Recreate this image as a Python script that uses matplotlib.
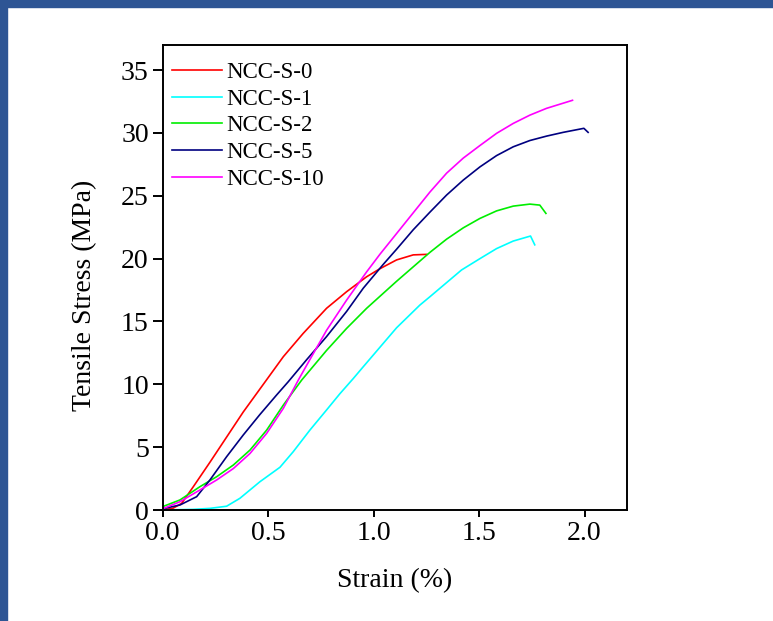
import numpy as np
import matplotlib
matplotlib.use('Agg')
import matplotlib.pyplot as plt
from matplotlib.patches import Rectangle

plt.rcParams['font.family'] = ['Liberation Serif', 'DejaVu Serif']

# strain (%) / tensile stress (MPa)
s0_x = [0.0, 0.05, 0.09, 0.145, 0.224, 0.303, 0.382, 0.49, 0.572, 0.666, 0.777, 0.872, 0.967,
        1.03, 1.109, 1.188, 1.251]
s0_y = [0.0, 0.15, 0.53, 1.85, 3.8, 5.8, 7.8, 10.3, 12.2, 14.05, 16.05, 17.37, 18.56,
        19.2, 19.9, 20.3, 20.34]

s1_x = [0.0, 0.145, 0.224, 0.303, 0.366, 0.461, 0.556, 0.619, 0.698, 0.777, 0.84, 0.903, 0.951,
        1.109, 1.219, 1.267, 1.417, 1.504, 1.583, 1.662, 1.744, 1.764]
s1_y = [0.0, 0.05, 0.13, 0.3, 0.93, 2.25, 3.4, 4.64, 6.36, 7.96, 9.25, 10.45, 11.4,
        14.5, 16.3, 16.97, 19.1, 20.0, 20.8, 21.4, 21.8, 21.1]

s2_x = [0.0, 0.082, 0.177, 0.256, 0.335, 0.414, 0.493, 0.572, 0.659, 0.777, 0.872, 0.967,
        1.109, 1.267, 1.346, 1.425, 1.504, 1.583, 1.662, 1.741, 1.788, 1.817]
s2_y = [0.27, 0.8, 1.86, 2.65, 3.58, 4.77, 6.36, 8.35, 10.34, 12.7, 14.45, 16.05,
        18.2, 20.5, 21.55, 22.45, 23.2, 23.8, 24.18, 24.34, 24.26, 23.6]

s5_x = [0.0, 0.082, 0.161, 0.224, 0.303, 0.382, 0.461, 0.54, 0.595, 0.682, 0.777, 0.872, 0.951,
        1.046, 1.109, 1.188, 1.267, 1.346, 1.425, 1.504, 1.583, 1.662, 1.741, 1.82, 1.899,
        1.997, 2.017]
s5_y = [0.1, 0.4, 1.06, 2.39, 4.24, 5.97, 7.6, 9.15, 10.2, 11.95, 13.8, 15.8, 17.65,
        19.55, 20.75, 22.3, 23.7, 25.06, 26.25, 27.3, 28.2, 28.9, 29.4, 29.75, 30.05,
        30.37, 30.05]

s10_x = [0.0, 0.082, 0.177, 0.256, 0.335, 0.414, 0.493, 0.572, 0.643, 0.682, 0.777, 0.872, 0.967,
         1.03, 1.109, 1.188, 1.267, 1.346, 1.425, 1.504, 1.583, 1.662, 1.741, 1.82, 1.943]
s10_y = [0.1, 0.66, 1.6, 2.39, 3.3, 4.5, 6.1, 8.09, 10.34, 11.5, 14.3, 16.7, 18.95,
         20.35, 22.0, 23.65, 25.3, 26.8, 28.0, 29.0, 29.97, 30.76, 31.42, 31.96, 32.6]

labels = ['NCC-S-0', 'NCC-S-1', 'NCC-S-2', 'NCC-S-5', 'NCC-S-10']
colors = ['#ff0000', '#00ffff', '#00ee00', '#000080', '#ff00ff']
xticks = [0.0, 0.5, 1.0, 1.5, 2.0]
yticks = [0, 5, 10, 15, 20, 25, 30, 35]

fig = plt.figure(figsize=(7.73, 6.21), dpi=100)
# blue frame on the left and top of the picture
fig.patches.append(Rectangle((0, 0), 7.3 / 773, 1, transform=fig.transFigure,
                             color='#2e5594', zorder=0))
fig.patches.append(Rectangle((0, 1 - 6.7 / 621), 1, 6.7 / 621, transform=fig.transFigure,
                             color='#2e5594', zorder=0))

ax = fig.add_axes([162.7 / 773, 111 / 621, 464 / 773, 465 / 621])

series = [(s0_x, s0_y), (s1_x, s1_y), (s2_x, s2_y), (s5_x, s5_y), (s10_x, s10_y)]
for (xs, ys), lab, c in zip(series, labels, colors):
    ax.plot(xs, ys, color=c, lw=1.2, label=lab)

ax.set_xlim(0, 2.2)
ax.set_ylim(0, 37)
ax.set_xticks(xticks)
ax.set_xticklabels(['%.1f' % t for t in xticks])
ax.set_yticks(yticks)
for sp in ax.spines.values():
    sp.set_linewidth(1.4)
ax.tick_params(axis='both', labelsize=20, width=1.4, direction='out')
ax.tick_params(axis='y', length=7, pad=3)
ax.tick_params(axis='x', length=5, pad=3)

ax.set_xlabel('Strain (%)', fontsize=20, labelpad=16)
ax.set_ylabel('Tensile Stress (MPa)', fontsize=20)
ax.yaxis.set_label_coords(-0.142, 0.462)

ax.legend(loc='upper left', bbox_to_anchor=(0.02, 0.964), frameon=False,
          fontsize=16.5, handlelength=2.2, handletextpad=0.15,
          labelspacing=0.25, borderpad=0, borderaxespad=0)

fig.savefig('out.png', dpi=100)
